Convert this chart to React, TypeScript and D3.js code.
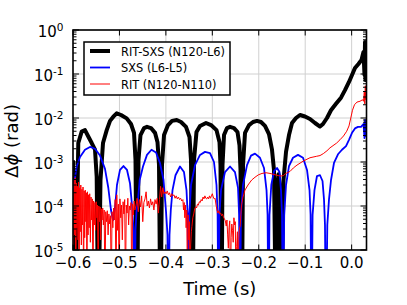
import React from "react";
import * as d3 from "d3";

// phase difference vs time, three resolution comparisons
const seriesNames = ["RIT-SXS (N120-L6)", "SXS (L6-L5)", "RIT (N120-N110)"];
const seriesColors = ["#000000", "#0000ff", "#ff0000"];
const xTicks = [-0.6, -0.5, -0.4, -0.3, -0.2, -0.1, 0.0];
const yDecades = [1e-5, 1e-4, 1e-3, 1e-2, 1e-1, 1];

// [time (s), delta phi (rad)]
const ritSxs: [number, number][] = [
  [-0.6, 1.1e-3], [-0.5957, 1e-7], [-0.5886, 2.7e-3], [-0.5813, 4.9e-3], [-0.5742, 5.3e-3],
  [-0.5671, 3.8e-3], [-0.5597, 2.7e-3], [-0.5526, 1.9e-3], [-0.549, 4.6e-4], [-0.5455, 1e-7],
  [-0.5408, 3.9e-4], [-0.5354, 2.7e-3], [-0.5274, 5.3e-3], [-0.5203, 8.6e-3], [-0.5132, 1.07e-2],
  [-0.5059, 1.28e-2], [-0.4966, 1.17e-2], [-0.4844, 9.8e-3], [-0.4751, 7.3e-3], [-0.4686, 4.6e-3],
  [-0.4654, 1.1e-3], [-0.4622, 1e-7], [-0.459, 1.1e-3], [-0.4547, 4.1e-3], [-0.4471, 5.9e-3],
  [-0.4407, 6.3e-3], [-0.432, 5.9e-3], [-0.4234, 4.6e-3], [-0.418, 2.8e-3], [-0.4148, 8.5e-4],
  [-0.4116, 1e-7], [-0.4084, 8.5e-4], [-0.404, 4.1e-3], [-0.3954, 6.9e-3], [-0.3868, 8.6e-3],
  [-0.3767, 9.0e-3], [-0.3674, 8.1e-3], [-0.3567, 6.3e-3], [-0.3491, 3.7e-3], [-0.3459, 1.1e-3],
  [-0.3427, 1e-7], [-0.3394, 1.1e-3], [-0.3341, 4.8e-3], [-0.3265, 6.6e-3], [-0.3136, 7.7e-3],
  [-0.3028, 6.9e-3], [-0.291, 5.3e-3], [-0.2845, 2.8e-3], [-0.2824, 8.5e-4], [-0.2802, 1e-7],
  [-0.2781, 8.5e-4], [-0.2748, 4.1e-3], [-0.2684, 5.9e-3], [-0.2619, 6.3e-3], [-0.2533, 5.9e-3],
  [-0.2458, 4.8e-3], [-0.2415, 2.4e-3], [-0.2393, 6.6e-4], [-0.2367, 1e-7], [-0.2339, 8.5e-4],
  [-0.2296, 4.6e-3], [-0.221, 6.9e-3], [-0.2124, 8.1e-3], [-0.2038, 8.6e-3], [-0.1952, 8.1e-3],
  [-0.1866, 6.6e-3], [-0.178, 4.3e-3], [-0.1715, 1.9e-3], [-0.1672, 6.6e-4], [-0.1629, 1e-7],
  [-0.1596, 3.0e-4], [-0.1575, 5.3e-4], [-0.1553, 3.0e-4], [-0.1521, 1e-7], [-0.1467, 3.9e-4],
  [-0.1413, 1.7e-3], [-0.1349, 4.1e-3], [-0.1284, 7.7e-3], [-0.1198, 1.0e-2], [-0.1112, 1.17e-2],
  [-0.1004, 1.08e-2], [-0.0897, 9.5e-3], [-0.0789, 7.7e-3], [-0.0681, 6.4e-3], [-0.0617, 7.3e-3],
  [-0.0531, 1.0e-2], [-0.0445, 1.5e-2], [-0.0337, 2.1e-2], [-0.0229, 2.9e-2], [-0.0143, 4.3e-2],
  [-0.0057, 6.6e-2], [0.0008, 9.5e-2], [0.0072, 0.137], [0.0147, 0.169], [0.0212, 0.208],
  [0.0255, 0.316], [0.0277, 9.5e-2], [0.0288, 0.533], [0.0298, 7.3e-2], [0.0309, 0.39],
  [0.032, 0.19],
];

const sxs: [number, number][] = [
  [-0.6, 2.3e-4], [-0.5957, 4.4e-4], [-0.592, 7.9e-4], [-0.5849, 1.3e-3], [-0.5742, 1.9e-3],
  [-0.5634, 2.2e-3], [-0.5526, 2.0e-3], [-0.5419, 1.4e-3], [-0.5311, 7.0e-4], [-0.524, 2.6e-4],
  [-0.5182, 8.1e-5], [-0.5139, 4.8e-5], [-0.5096, 9.0e-5], [-0.5053, 3.0e-4], [-0.4988, 6.6e-4],
  [-0.4913, 8.1e-4], [-0.4837, 6.6e-4], [-0.4773, 3.3e-4], [-0.473, 1.05e-4], [-0.4697, 2.8e-5],
  [-0.4676, 1e-7], [-0.4654, 2.8e-5], [-0.4633, 7.5e-5], [-0.46, 1.4e-4], [-0.4564, 3.9e-4],
  [-0.4493, 7.9e-4], [-0.4407, 1.45e-3], [-0.431, 1.9e-3], [-0.4213, 1.65e-3], [-0.4127, 9.5e-4],
  [-0.4051, 3.9e-4], [-0.3997, 7.5e-5], [-0.3965, 2.2e-5], [-0.3944, 1e-7], [-0.3922, 2.2e-5],
  [-0.3894, 8.1e-5], [-0.3857, 2.3e-4], [-0.3793, 5.0e-4], [-0.3696, 7.9e-4], [-0.361, 5.9e-4],
  [-0.3556, 2.3e-4], [-0.353, 6.3e-5], [-0.3513, 1e-7], [-0.3494, 6.3e-5], [-0.3459, 3.0e-4],
  [-0.3373, 8.5e-4], [-0.3265, 1.45e-3], [-0.3158, 1.7e-3], [-0.305, 1.6e-3], [-0.2964, 1.0e-3],
  [-0.291, 3.0e-4], [-0.2886, 6.3e-5], [-0.2867, 1e-7], [-0.2848, 6.3e-5], [-0.2813, 2.3e-4],
  [-0.2727, 5.9e-4], [-0.2619, 7.9e-4], [-0.2512, 5.9e-4], [-0.2447, 2.6e-4], [-0.2423, 6.3e-5],
  [-0.2404, 1e-7], [-0.2385, 6.3e-5], [-0.2339, 3.0e-4], [-0.2253, 8.5e-4], [-0.2167, 1.4e-3],
  [-0.2081, 1.55e-3], [-0.1974, 1.25e-3], [-0.1887, 7.3e-4], [-0.1833, 2.3e-4], [-0.181, 6.3e-5],
  [-0.179, 1e-7], [-0.1769, 6.3e-5], [-0.173, 3.0e-4], [-0.1672, 6.2e-4], [-0.1607, 7.3e-4],
  [-0.1553, 5.9e-4], [-0.1521, 2.3e-4], [-0.1499, 6.3e-5], [-0.1478, 1e-7], [-0.1452, 6.3e-5],
  [-0.1413, 3.0e-4], [-0.1349, 8.1e-4], [-0.1263, 1.25e-3], [-0.1155, 1.45e-3], [-0.1047, 1.25e-3],
  [-0.0961, 6.6e-4], [-0.0907, 2.3e-4], [-0.0884, 6.3e-5], [-0.0864, 1e-7], [-0.0841, 6.3e-5],
  [-0.08, 2.3e-4], [-0.0746, 4.8e-4], [-0.0681, 5.0e-4], [-0.0627, 3.7e-4], [-0.0595, 1.4e-4],
  [-0.0574, 3.7e-5], [-0.0552, 1e-7], [-0.0524, 3.7e-5], [-0.0488, 1.4e-4], [-0.0444, 3.9e-4],
  [-0.038, 9.5e-4], [-0.0294, 1.5e-3], [-0.0208, 1.9e-3], [-0.0121, 2.3e-3], [-0.0057, 3.2e-3],
  [0.0008, 4.6e-3], [0.0072, 5.8e-3], [0.0137, 6.3e-3], [0.0202, 6.3e-3], [0.0255, 7.3e-3],
  [0.0277, 3.5e-3], [0.0288, 9.0e-3], [0.0298, 3.9e-3], [0.0309, 7.3e-3], [0.032, 5.6e-3],
];

const rit: [number, number][] = [
  [-0.6, 2.3e-4], [-0.5988, 1.3e-5], [-0.5976, 3.9e-4], [-0.5964, 2.2e-5], [-0.5952, 4.4e-4],
  [-0.594, 1e-6], [-0.5928, 3.3e-4], [-0.5916, 3.2e-5], [-0.5904, 2.8e-4], [-0.5892, 1.7e-5],
  [-0.588, 3.5e-4], [-0.5868, 1e-6], [-0.5856, 2.6e-4], [-0.5844, 2.6e-5], [-0.5832, 3.0e-4],
  [-0.582, 1.3e-5], [-0.5808, 2.4e-4], [-0.5796, 3.7e-5], [-0.5784, 2.7e-4], [-0.5772, 1e-6],
  [-0.576, 2.2e-4], [-0.5748, 1.9e-5], [-0.5736, 2.3e-4], [-0.5724, 4.4e-5], [-0.5712, 2.0e-4],
  [-0.57, 1e-6], [-0.5688, 2.1e-4], [-0.5676, 2.2e-5], [-0.5664, 1.8e-4], [-0.5652, 3.2e-5],
  [-0.564, 1.9e-4], [-0.5626, 1.5e-5], [-0.5612, 1.6e-4], [-0.5598, 4.8e-5], [-0.5584, 1.45e-4],
  [-0.557, 1e-6], [-0.5556, 1.3e-4], [-0.5542, 3.7e-5], [-0.5528, 1.2e-4], [-0.5514, 2.8e-5],
  [-0.55, 1.25e-4], [-0.5486, 5.4e-5], [-0.5472, 1.05e-4], [-0.5458, 1e-6], [-0.5444, 1.0e-4],
  [-0.543, 4.4e-5], [-0.5416, 9.5e-5], [-0.5402, 1.7e-5], [-0.5388, 8.6e-5], [-0.5374, 4.8e-5],
  [-0.536, 9.0e-5], [-0.5346, 3.7e-5], [-0.5329, 8.1e-5], [-0.5312, 1e-6], [-0.5295, 7.4e-5],
  [-0.5278, 4.4e-5], [-0.5261, 7.8e-5], [-0.5244, 2.2e-5], [-0.5227, 6.6e-5], [-0.521, 3.9e-5],
  [-0.5193, 6.0e-5], [-0.5176, 1e-6], [-0.5159, 7.4e-5], [-0.5142, 3.2e-5], [-0.5125, 9.0e-5],
  [-0.5108, 4.8e-5], [-0.5091, 1.4e-4], [-0.5074, 1e-6], [-0.5057, 1.8e-4], [-0.504, 2.8e-5],
  [-0.5023, 1.1e-4], [-0.5006, 1e-6], [-0.4989, 1.45e-4], [-0.4972, 5.4e-5], [-0.4955, 1.05e-4],
  [-0.4938, 1.7e-5], [-0.4921, 1.25e-4], [-0.4904, 6.6e-5], [-0.4887, 1.4e-4], [-0.487, 1e-6],
  [-0.4853, 1.05e-4], [-0.4836, 6.9e-5], [-0.4819, 1.5e-4], [-0.4802, 3.7e-5], [-0.4785, 1.0e-4],
  [-0.4768, 8.1e-5], [-0.4751, 1.2e-4], [-0.4734, 1e-6], [-0.4717, 1.1e-4], [-0.47, 6.3e-5],
  [-0.4683, 1.3e-4], [-0.4666, 8.1e-5], [-0.4642, 1.05e-4], [-0.4618, 1.5e-4], [-0.4594, 7.4e-5],
  [-0.457, 1.4e-4], [-0.4546, 9.5e-5], [-0.4522, 1.7e-4], [-0.4498, 4.4e-5], [-0.4474, 1.2e-4],
  [-0.445, 1.45e-4], [-0.4426, 2.1e-4], [-0.4402, 1.0e-4], [-0.4378, 1.3e-4], [-0.4354, 9.0e-5],
  [-0.433, 1.45e-4], [-0.4306, 1.05e-4], [-0.4282, 1.25e-4], [-0.4258, 8.1e-5], [-0.4234, 1.4e-4],
  [-0.421, 1.1e-4], [-0.4186, 1.5e-4], [-0.4162, 6.9e-5], [-0.4138, 1.4e-4], [-0.4114, 2.8e-4],
  [-0.409, 1.6e-4], [-0.4066, 2.6e-4], [-0.4042, 1.9e-4], [-0.4018, 2.1e-4], [-0.3994, 1.9e-4],
  [-0.397, 2.2e-4], [-0.3946, 1.8e-4], [-0.3922, 2.0e-4], [-0.3898, 1.6e-4], [-0.3874, 1.9e-4],
  [-0.385, 1.7e-4], [-0.3826, 1.8e-4], [-0.3802, 1.5e-4], [-0.3778, 1.7e-4], [-0.3754, 1.45e-4],
  [-0.373, 1.6e-4], [-0.3706, 1.4e-4], [-0.3682, 1.5e-4], [-0.3658, 1.3e-4], [-0.3634, 1.4e-4],
  [-0.362, 8.1e-5], [-0.3606, 1.2e-4], [-0.3592, 5.4e-5], [-0.3578, 1.05e-4], [-0.3564, 3.2e-5],
  [-0.355, 8.1e-5], [-0.3536, 1e-6], [-0.3522, 6.3e-5], [-0.3508, 1.7e-5], [-0.3494, 4.4e-5],
  [-0.348, 1e-6], [-0.3466, 1.3e-5], [-0.3452, 2.6e-5], [-0.344, 3.4e-5], [-0.342, 5.4e-5],
  [-0.34, 6.6e-5], [-0.338, 8.6e-5], [-0.336, 9.5e-5], [-0.334, 9.0e-5], [-0.332, 1.1e-4],
  [-0.33, 1.05e-4], [-0.328, 1.25e-4], [-0.326, 1.2e-4], [-0.324, 1.4e-4], [-0.322, 1.3e-4],
  [-0.32, 1.6e-4], [-0.318, 1.45e-4], [-0.316, 1.7e-4], [-0.314, 1.5e-4], [-0.312, 1.45e-4],
  [-0.31, 1.6e-4], [-0.308, 1.45e-4], [-0.306, 1.7e-4], [-0.304, 1.5e-4], [-0.302, 1.7e-4],
  [-0.3, 1.9e-4], [-0.298, 1.6e-4], [-0.296, 1.45e-4], [-0.294, 1.5e-4], [-0.292, 1.05e-4],
  [-0.29, 8.1e-5], [-0.288, 6.9e-5], [-0.286, 7.8e-5], [-0.284, 6.6e-5], [-0.282, 6.9e-5],
  [-0.28, 6.0e-5], [-0.278, 6.6e-5], [-0.276, 5.6e-5], [-0.274, 5.1e-5], [-0.272, 4.6e-5],
  [-0.27, 3.5e-5], [-0.2685, 4.8e-5], [-0.267, 2.2e-5], [-0.2655, 1.1e-5], [-0.264, 3.2e-5],
  [-0.2625, 4.6e-5], [-0.261, 1e-6], [-0.2595, 1.9e-5], [-0.258, 3.9e-5], [-0.2565, 2.8e-5],
  [-0.255, 1.5e-5], [-0.2535, 5.4e-5], [-0.252, 3.7e-5], [-0.2505, 4.4e-5], [-0.249, 1e-6],
  [-0.2475, 1.2e-5], [-0.246, 2.6e-5], [-0.2445, 1e-6], [-0.243, 1.7e-5], [-0.2415, 3.2e-5],
  [-0.24, 3.5e-5], [-0.2385, 6.3e-5], [-0.237, 1.05e-4], [-0.2339, 1.6e-4], [-0.2296, 2.3e-4],
  [-0.2232, 3.0e-4], [-0.2152, 3.9e-4], [-0.2081, 4.5e-4], [-0.201, 5.1e-4], [-0.193, 5.5e-4],
  [-0.1844, 5.7e-4], [-0.1758, 5.5e-4], [-0.1672, 5.2e-4], [-0.1579, 4.9e-4], [-0.1521, 4.8e-4],
  [-0.1472, 4.9e-4], [-0.1413, 5.5e-4], [-0.1327, 6.1e-4], [-0.1256, 7.3e-4], [-0.1177, 8.5e-4],
  [-0.1041, 1.05e-3], [-0.0897, 1.25e-3], [-0.0752, 1.35e-3], [-0.0681, 1.4e-3], [-0.061, 1.55e-3],
  [-0.0531, 1.8e-3], [-0.0466, 2.1e-3], [-0.0322, 2.7e-3], [-0.0251, 3.2e-3], [-0.0175, 3.9e-3],
  [-0.0106, 5.0e-3], [-0.0057, 6.6e-3], [-0.0014, 1.05e-2], [0.0018, 1.5e-2], [0.0061, 2.0e-2],
  [0.0115, 2.3e-2], [0.018, 2.4e-2], [0.0234, 2.6e-2], [0.0255, 2.4e-2], [0.0273, 3.9e-2],
  [0.0283, 2.1e-2], [0.0294, 5.4e-2], [0.0305, 2.6e-2], [0.0316, 4.8e-2],
];

const seriesData = [ritSxs, sxs, rit];
const seriesWidths = [4, 1.8, 1.0];

const W = 407;
const H = 305;
const L = 73, R = 366.5, T = 30, B = 250;
const font = "'DejaVu Sans', sans-serif";

export default function App() {
  const x = d3.scaleLinear().domain([-0.6, 0.032]).range([L, R]);
  const y = d3.scaleLog().domain([1e-5, 1]).range([B, T]);
  const line = d3
    .line<[number, number]>()
    .x((d) => x(d[0]))
    .y((d) => y(d[1]));
  const fmt = d3.format(".1f");
  const minor = y.ticks().filter((v) => Math.abs(Math.log10(v) - Math.round(Math.log10(v))) > 1e-6);

  return (
    <svg
      width={W}
      height={H}
      style={{ position: "absolute", left: 0, top: 0, background: "#fff" }}
      fontFamily={font}
    >
      <defs>
        <clipPath id="plotArea">
          <rect x={L} y={T} width={R - L} height={B - T} />
        </clipPath>
      </defs>
      <rect x={0} y={0} width={W} height={H} fill="#fff" />

      {/* grid */}
      <g stroke="#d0d0d0" strokeWidth={1}>
        {xTicks.map((t) => (
          <line key={"gx" + t} x1={x(t)} x2={x(t)} y1={T} y2={B} />
        ))}
        {yDecades.map((v) => (
          <line key={"gy" + v} x1={L} x2={R} y1={y(v)} y2={y(v)} />
        ))}
      </g>

      {/* series */}
      <g clipPath="url(#plotArea)" fill="none" strokeLinejoin="round">
        {seriesData.map((d, i) => (
          <path key={i} d={line(d) || ""} stroke={seriesColors[i]} strokeWidth={seriesWidths[i]} />
        ))}
      </g>

      {/* frame */}
      <rect x={L} y={T} width={R - L} height={B - T} fill="none" stroke="#000" strokeWidth={1.6} />

      {/* ticks */}
      <g stroke="#000" strokeWidth={1}>
        {xTicks.map((t) => (
          <g key={"tx" + t}>
            <line x1={x(t)} x2={x(t)} y1={B} y2={B - 5.5} />
            <line x1={x(t)} x2={x(t)} y1={T} y2={T + 5.5} />
          </g>
        ))}
        {yDecades.map((v) => (
          <g key={"ty" + v}>
            <line x1={L} x2={L + 6} y1={y(v)} y2={y(v)} />
            <line x1={R} x2={R - 6} y1={y(v)} y2={y(v)} />
          </g>
        ))}
        {minor.map((v) => (
          <g key={"tm" + v}>
            <line x1={L} x2={L + 3.5} y1={y(v)} y2={y(v)} />
            <line x1={R} x2={R - 3.5} y1={y(v)} y2={y(v)} />
          </g>
        ))}
      </g>

      {/* tick labels */}
      <g fontSize={15} fill="#000">
        {xTicks.map((t) => (
          <text key={"lx" + t} x={x(t)} y={B + 18} textAnchor="middle">
            {fmt(t)}
          </text>
        ))}
        {yDecades.map((v) => {
          const e = Math.round(Math.log10(v));
          return (
            <text key={"ly" + v} x={63.5} y={y(v) + 6.5} textAnchor="end">
              10
              <tspan dy={-5.5} fontSize={10.5}>
                {e === 0 ? "0" : "-" + Math.abs(e)}
              </tspan>
            </text>
          );
        })}
      </g>

      {/* axis labels */}
      <text x={(L + R) / 2} y={295} textAnchor="middle" fontSize={18}>
        Time (s)
      </text>
      <text transform={`translate(18,141) rotate(-90)`} textAnchor="middle" fontSize={18}>
        Δ<tspan fontStyle="italic">ϕ</tspan> (rad)
      </text>

      {/* legend */}
      <rect x={84} y={42} width={146} height={53} fill="#fff" stroke="#000" strokeWidth={1.5} />
      {seriesNames.map((name, i) => {
        const ly = 51 + i * 16.5;
        return (
          <g key={name}>
            <line x1={90} x2={110} y1={ly} y2={ly} stroke={seriesColors[i]} strokeWidth={seriesWidths[i]} />
            <text x={121} y={ly + 4.5} fontSize={11.4}>
              {name}
            </text>
          </g>
        );
      })}
    </svg>
  );
}
